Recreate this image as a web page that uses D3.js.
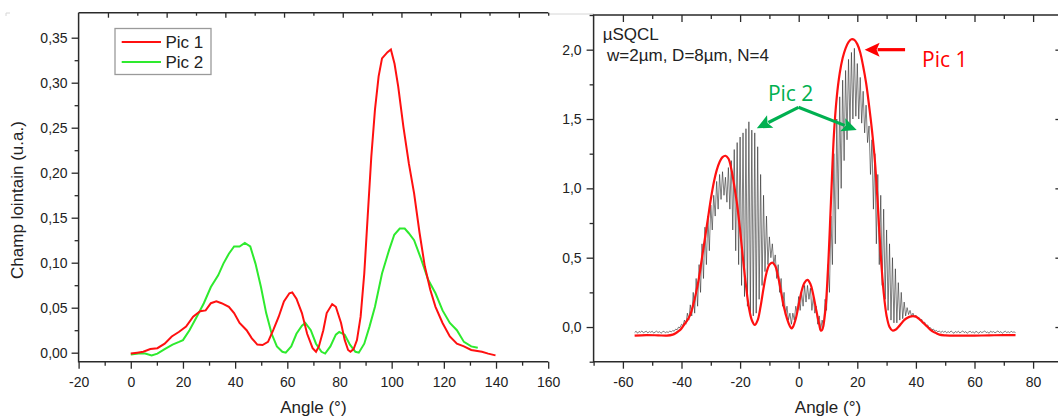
<!DOCTYPE html>
<html><head><meta charset="utf-8">
<script src="https://cdn.jsdelivr.net/npm/d3@7"></script>
<style>
html,body{margin:0;padding:0;background:#fff;}
svg{display:block;}
text{font-family:"Liberation Sans",Arial,sans-serif;fill:#222;}
.ann{font-family:"Open Sans","Noto Sans",sans-serif;}
</style></head>
<body>
<svg id="chart" width="1058" height="418"></svg>
<script>
// ---------------- DATA ----------------
// Left panel: far field, Pic 1 and Pic 2  [angle (°), value (u.a.)]
const leftSeriesNames = ["Pic 1", "Pic 2"];
const pic1 = [[0,-0.001],[2.5,0.0],[4.8,0.001],[7.5,0.004],[10.2,0.005],[13,0.010],[15.7,0.018],[18.4,0.023],[21.2,0.029],[23.9,0.040],[26.6,0.046],[28.7,0.047],[30.7,0.055],[32.8,0.057],[34.8,0.055],[37.6,0.051],[39.6,0.044],[41.7,0.033],[44.4,0.025],[46.4,0.016],[48.5,0.009],[50.5,0.0085],[52.6,0.012],[54.6,0.025],[56.7,0.040],[58.7,0.057],[60.8,0.066],[61.9,0.067],[63.5,0.060],[65.6,0.044],[67.6,0.021],[69.7,0.005],[71,0.001],[72.1,0.007],[73.8,0.025],[75.1,0.044],[77.2,0.054],[78.6,0.051],[80.6,0.033],[82,0.014],[83.3,0.003],[84.2,0.001],[85.4,0.004],[86.7,0.014],[88.1,0.040],[89.5,0.088],[90.8,0.151],[92.2,0.218],[93.6,0.270],[95,0.307],[96.3,0.327],[98.4,0.334],[99.7,0.337],[101.1,0.321],[102.5,0.296],[104.5,0.251],[106.6,0.210],[108.6,0.177],[110.7,0.133],[112.7,0.096],[114.8,0.070],[116.8,0.051],[119.5,0.033],[122.3,0.018],[125,0.010],[127.7,0.007],[130.5,0.003],[134.6,0.001],[137,-0.001],[139.8,-0.003]];
const pic2 = [[0,-0.002],[3,-0.001],[5.5,-0.001],[8,-0.003],[10.2,-0.001],[13,0.004],[16,0.009],[18.5,0.012],[20,0.014],[22.5,0.025],[25.3,0.040],[28,0.055],[30.7,0.073],[33.5,0.086],[35.5,0.099],[37.6,0.110],[39.6,0.118],[41.7,0.118],[43.7,0.122],[45.8,0.118],[47.8,0.099],[49.9,0.073],[51.9,0.044],[54,0.021],[56,0.007],[58.1,0.001],[59.4,0.0],[61.5,0.007],[63.5,0.021],[65.6,0.030],[66.9,0.033],[69,0.025],[71,0.010],[73.1,0.001],[74.5,-0.001],[76.5,0.007],[78.6,0.020],[79.9,0.023],[82,0.020],[84,0.009],[86.1,0.001],[87.4,0.0],[89.5,0.010],[91.5,0.029],[93.6,0.051],[96.3,0.088],[99,0.114],[101,0.131],[103.1,0.138],[105,0.138],[106.5,0.133],[108.6,0.125],[111.3,0.104],[114,0.081],[116.8,0.066],[119.5,0.047],[122.3,0.033],[125,0.025],[127.7,0.012],[130.5,0.007],[133,0.0055]];
const leftXTicks = [-20,0,20,40,60,80,100,120,140,160];
const leftYTicks = [0,0.05,0.10,0.15,0.20,0.25,0.30,0.35];

// Right panel: µSQCL measured (black) and model (red)  [angle (°), value]
const measured = [[-56,-0.04],[-55.5,-0.03],[-55,-0.045],[-54.5,-0.032],[-54,-0.038],[-53.5,-0.028],[-53,-0.042],[-52.5,-0.035],[-52,-0.03],[-51.5,-0.043],[-51,-0.033],[-50.5,-0.038],[-50,-0.03],[-49.5,-0.044],[-49,-0.036],[-48.5,-0.03],[-48,-0.04],[-47.5,-0.033],[-47,-0.045],[-46.5,-0.035],[-46,-0.03],[-45.5,-0.042],[-45,-0.034],[-44.5,-0.04],[-44,-0.028],[-43.5,-0.036],[-43,-0.025],[-42.5,-0.03],[-42,-0.015],[-41.5,-0.02],[-41,0.0],[-40.5,-0.005],[-40,0.02],[-39.5,0.01],[-39,0.05],[-38.5,0.02],[-38,0.1],[-37.5,0.05],[-37,0.16],[-36.5,0.08],[-36,0.25],[-35.5,0.1],[-35,0.35],[-34.5,0.15],[-34,0.45],[-33.5,0.25],[-33,0.6],[-32.5,0.35],[-32,0.72],[-31.5,0.45],[-31,0.8],[-30.5,0.55],[-30,0.88],[-29.5,0.7],[-29,0.95],[-28.5,0.8],[-28,1.05],[-27.5,0.85],[-27,1.1],[-26.5,0.92],[-26,1.12],[-25.5,0.95],[-25,1.08],[-24.5,0.9],[-24,1.15],[-23.5,0.85],[-23,1.2],[-22.5,0.7],[-22,1.28],[-21.5,0.55],[-21,1.33],[-20.5,0.45],[-20,1.37],[-19.5,0.3],[-19,1.4],[-18.5,0.22],[-18,1.43],[-17.5,0.15],[-17,1.48],[-16.5,0.1],[-16,1.42],[-15.5,0.08],[-15,1.4],[-14.5,0.1],[-14,1.3],[-13.5,0.2],[-13,1.1],[-12.5,0.3],[-12,0.95],[-11.5,0.4],[-11,0.8],[-10.5,0.45],[-10,0.65],[-9.5,0.5],[-9,0.6],[-8.5,0.45],[-8,0.52],[-7.5,0.35],[-7,0.45],[-6.5,0.25],[-6,0.35],[-5.5,0.15],[-5,0.25],[-4.5,0.08],[-4,0.15],[-3.5,0.05],[-3,0.1],[-2.5,0.02],[-2,0.1],[-1.5,0.05],[-1,0.15],[-0.5,0.1],[0,0.22],[0.5,0.12],[1,0.25],[1.5,0.15],[2,0.3],[2.5,0.18],[3,0.3],[3.5,0.2],[4,0.28],[4.5,0.12],[5,0.22],[5.5,0.1],[6,0.15],[6.5,0.02],[7,0.08],[7.5,-0.02],[8,0.05],[8.5,0.0],[9,0.2],[9.5,0.12],[10,0.45],[10.5,0.25],[11,0.8],[11.5,0.45],[12,1.25],[12.5,0.6],[13,1.5],[13.5,0.85],[14,1.66],[14.5,1.0],[15,1.78],[15.5,1.2],[16,1.85],[16.5,1.35],[17,1.93],[17.5,1.45],[18,1.98],[18.5,1.5],[19,2.01],[19.5,1.52],[20,1.9],[20.5,1.5],[21,1.8],[21.5,1.47],[22,1.7],[22.5,1.4],[23,1.6],[23.5,1.33],[24,1.45],[24.5,1.1],[25,1.35],[25.5,0.85],[26,1.25],[26.5,0.6],[27,1.1],[27.5,0.45],[28,0.95],[28.5,0.3],[29,0.85],[29.5,0.2],[30,0.7],[30.5,0.12],[31,0.6],[31.5,0.05],[32,0.5],[32.5,0.03],[33,0.42],[33.5,0.03],[34,0.32],[34.5,0.05],[35,0.25],[35.5,0.06],[36,0.18],[36.5,0.08],[37,0.14],[37.5,0.09],[38,0.12],[38.5,0.08],[39,0.1],[39.5,0.075],[40,0.085],[40.5,0.065],[41,0.07],[41.5,0.05],[42,0.055],[42.5,0.03],[43,0.035],[43.5,0.01],[44,0.015],[44.5,-0.005],[45,-0.005],[45.5,-0.02],[46,-0.015],[46.5,-0.03],[47,-0.025],[47.5,-0.035],[48,-0.028],[48.5,-0.04],[49,-0.03],[49.5,-0.038],[50,-0.03],[50.5,-0.042],[51,-0.033],[51.5,-0.04],[52,-0.028],[52.5,-0.038],[53,-0.045],[53.5,-0.032],[54,-0.04],[54.5,-0.03],[55,-0.043],[55.5,-0.035],[56,-0.028],[56.5,-0.04],[57,-0.033],[57.5,-0.045],[58,-0.036],[58.5,-0.03],[59,-0.04],[59.5,-0.034],[60,-0.044],[60.5,-0.03],[61,-0.038],[61.5,-0.045],[62,-0.032],[62.5,-0.04],[63,-0.035],[63.5,-0.028],[64,-0.04],[64.5,-0.036],[65,-0.045],[65.5,-0.03],[66,-0.038],[66.5,-0.033],[67,-0.042],[67.5,-0.035],[68,-0.028],[68.5,-0.04],[69,-0.033],[69.5,-0.045],[70,-0.036],[70.5,-0.03],[71,-0.04],[71.5,-0.034],[72,-0.042],[72.5,-0.03],[73,-0.038],[73.5,-0.035],[74,-0.04]];
const model = [[-56,-0.062],[-52,-0.058],[-48,-0.06],[-45,-0.062],[-43,-0.055],[-42,-0.045],[-41,-0.03],[-40,-0.01],[-39,0.02],[-38,0.05],[-37,0.09],[-36,0.16],[-35,0.25],[-34,0.36],[-33,0.5],[-32,0.64],[-31,0.78],[-30,0.92],[-29,1.04],[-28,1.13],[-27,1.19],[-26,1.225],[-25,1.235],[-24,1.215],[-23,1.14],[-22,1.02],[-21,0.88],[-20,0.7],[-19,0.49],[-18,0.3],[-17,0.14],[-16,0.05],[-15,0.015],[-14,0.05],[-13,0.15],[-12,0.28],[-11,0.39],[-10,0.45],[-9,0.465],[-8,0.44],[-7,0.36],[-6,0.25],[-5,0.14],[-4,0.06],[-3,0.005],[-2.5,-0.01],[-2,0.0],[-1,0.06],[0,0.16],[1,0.26],[2,0.32],[3,0.34],[4,0.31],[5,0.23],[6,0.12],[7,0.02],[7.5,-0.025],[8,-0.02],[9,0.1],[10,0.42],[11,0.9],[12,1.38],[13,1.66],[14,1.83],[15,1.94],[16,2.01],[17,2.055],[18,2.075],[19,2.07],[20,2.04],[21,1.98],[22,1.88],[23,1.76],[24,1.6],[25,1.42],[26,1.2],[27,0.88],[28,0.52],[29,0.25],[30,0.08],[31,0.0],[32,-0.025],[33,-0.02],[34,0.0],[35,0.025],[36,0.05],[37,0.065],[38,0.075],[39,0.078],[40,0.075],[41,0.06],[42,0.04],[43,0.02],[44,0.0],[45,-0.02],[46,-0.035],[47,-0.045],[48,-0.055],[50,-0.06],[55,-0.062],[60,-0.062],[65,-0.06],[70,-0.058],[74,-0.058]];
const rightXTicks = [-60,-40,-20,0,20,40,60,80];
const rightYTicks = [0,0.5,1.0,1.5,2.0];

// Annotation anchors (data coordinates of the right panel)
const annTitle = ["µSQCL", "w=2µm, D=8µm, N=4"];
const pic1Label = {text:"Pic 1", x:42.1, y:1.877, arrowFrom:[36.3,2.0], arrowTo:[22.5,2.0]};
const pic2Label = {text:"Pic 2", x:-10.5, y:1.632, apex:[-0.1,1.584], tips:[[-14.3,1.433],[19.8,1.42]]};

// ---------------- LAYOUT ----------------
const svg = d3.select("#chart");
const fmt2 = v => d3.format(".2f")(v).replace(".", ",");
const fmt1 = v => d3.format(".1f")(v).replace(".", ",");
const fmtInt = v => String(v); // plain hyphen-minus like the original
const AX = "#2a2a2a";

// decorative light frame lines
svg.append("line").attr("x1",548).attr("x2",594).attr("y1",14).attr("y2",14).attr("stroke","#d6d6d6").attr("stroke-width",1);
svg.append("path").attr("d","M6,16V13H10").attr("fill","none").attr("stroke","#d6d6d6").attr("stroke-width",1);

function styleAxis(g){
  g.select(".domain").remove();
  g.selectAll(".tick line").attr("stroke",AX).attr("stroke-width",1.3);
  g.selectAll(".tick text").attr("fill","#222").style("font-size","14px").style("font-family","'Liberation Sans',Arial,sans-serif");
}

// ----- LEFT PANEL -----
const lx = d3.scaleLinear().domain([-20,160]).range([78.6,548.2]);
const ly = d3.scaleLinear().domain([-0.01,0.37778]).range([361.7,12.7]);
const lTop = d3.scaleLinear().domain([0,16]).range([78.6,548.2]);
const L = svg.append("g");

L.append("g").attr("transform",`translate(0,${ly.range()[0]})`)
  .call(d3.axisBottom(lx).tickValues(d3.range(-10,160,20)).tickSize(4).tickFormat("")).call(styleAxis);
L.append("g").attr("transform",`translate(${lx.range()[0]},0)`)
  .call(d3.axisLeft(ly).tickValues(d3.range(0.025,0.37,0.05)).tickSize(4).tickFormat("")).call(styleAxis);
L.append("g").attr("transform",`translate(0,${ly.range()[0]})`)
  .call(d3.axisBottom(lx).tickValues(leftXTicks).tickSize(7).tickPadding(8).tickFormat(fmtInt)).call(styleAxis);
L.append("g").attr("transform",`translate(${lx.range()[0]},0)`)
  .call(d3.axisLeft(ly).tickValues(leftYTicks).tickSize(7).tickPadding(4).tickFormat(fmt2)).call(styleAxis);
L.append("g").attr("transform",`translate(0,${ly.range()[1]})`)
  .call(d3.axisBottom(lTop).tickValues(d3.range(1,16,2)).tickSize(5).tickFormat("")).call(styleAxis);
L.append("g").attr("transform",`translate(0,${ly.range()[1]})`)
  .call(d3.axisBottom(lTop).tickValues(d3.range(2,17,2)).tickSize(3).tickFormat("")).call(styleAxis);
L.append("path").attr("d",`M${lx.range()[0]},${ly.range()[1]}V${ly.range()[0]}H${lx.range()[1]}M${lx.range()[0]},${ly.range()[1]}H${lx.range()[1]}`)
  .attr("fill","none").attr("stroke",AX).attr("stroke-width",1.5);

const lline = d3.line().x(d=>lx(d[0])).y(d=>ly(d[1])).curve(d3.curveLinear);
const leftColors = ["#ff1010","#2eea2e"];
L.append("path").datum(pic2).attr("d",lline).attr("fill","none").attr("stroke",leftColors[1]).attr("stroke-width",2);
L.append("path").datum(pic1).attr("d",lline).attr("fill","none").attr("stroke",leftColors[0]).attr("stroke-width",2);

L.append("text").attr("x",313.4).attr("y",413).attr("text-anchor","middle").style("font-size","17px").text("Angle (°)");
L.append("text").attr("transform","translate(23,200) rotate(-90)").attr("text-anchor","middle").style("font-size","17px").text("Champ lointain (u.a.)");

const lg = L.append("g");
lg.append("rect").attr("x",115).attr("y",28.5).attr("width",96).attr("height",46).attr("fill","#fff").attr("stroke","#9a9a9a").attr("stroke-width",1.3);
leftSeriesNames.forEach((n,i)=>{
  const yy = 42 + i*20;
  lg.append("line").attr("x1",121.7).attr("x2",161).attr("y1",yy).attr("y2",yy).attr("stroke",leftColors[i]).attr("stroke-width",2);
  lg.append("text").attr("x",165.5).attr("y",yy+6.3).style("font-size","17px").text(n);
});

// ----- RIGHT PANEL -----
const rx = d3.scaleLinear().domain([-70,90]).range([593.6,1062.4]);
const ry = d3.scaleLinear().domain([-0.25,2.25]).range([361.7,15]);
const R = svg.append("g");

R.append("g").attr("transform",`translate(0,${ry.range()[0]})`)
  .call(d3.axisBottom(rx).tickValues(d3.range(-70,91,20)).tickSize(4).tickFormat("")).call(styleAxis);
R.append("g").attr("transform",`translate(${rx.range()[0]},0)`)
  .call(d3.axisLeft(ry).tickValues(d3.range(-0.25,2.26,0.5)).tickSize(4).tickFormat("")).call(styleAxis);
R.append("g").attr("transform",`translate(0,${ry.range()[0]})`)
  .call(d3.axisBottom(rx).tickValues(rightXTicks).tickSize(7).tickPadding(8).tickFormat(fmtInt)).call(styleAxis);
R.append("g").attr("transform",`translate(${rx.range()[0]},0)`)
  .call(d3.axisLeft(ry).tickValues(rightYTicks).tickSize(7).tickPadding(5).tickFormat(fmt1)).call(styleAxis);
R.append("g").attr("transform",`translate(0,${ry.range()[1]})`)
  .call(d3.axisBottom(rx).tickValues(d3.range(-60,90,20)).tickSize(7).tickFormat("")).call(styleAxis);
R.append("g").attr("transform",`translate(0,${ry.range()[1]})`)
  .call(d3.axisBottom(rx).tickValues(d3.range(-50,90,20)).tickSize(4).tickFormat("")).call(styleAxis);
R.append("g").attr("transform",`translate(${rx.range()[1]},0)`)
  .call(d3.axisLeft(ry).tickValues(rightYTicks).tickSize(7).tickFormat("")).call(styleAxis);
R.append("path").attr("d",`M${rx.range()[0]},${ry.range()[1]}V${ry.range()[0]}H${rx.range()[1]}V${ry.range()[1]}Z`)
  .attr("fill","none").attr("stroke",AX).attr("stroke-width",1.5);

const rline = d3.line().x(d=>rx(d[0])).y(d=>ry(d[1]));
R.append("path").datum(measured).attr("d",rline).attr("fill","none").attr("stroke","#2a2a2a").attr("stroke-width",0.8).attr("stroke-opacity",0.75);
R.append("path").datum(model).attr("d",rline.curve(d3.curveCatmullRom)).attr("fill","none").attr("stroke","#ff1010").attr("stroke-width",2.2);

R.append("text").attr("x",828).attr("y",413).attr("text-anchor","middle").style("font-size","17px").text("Angle (°)");

R.append("text").attr("x",rx(-66.9)).attr("y",ry(2.07)).style("font-size","17px").text(annTitle[0]);
R.append("text").attr("x",rx(-65.4)).attr("y",ry(1.918)).style("font-size","17px").text(annTitle[1]);

function arrow(g, from, to, color){
  const x1=rx(from[0]), y1=ry(from[1]), x2=rx(to[0]), y2=ry(to[1]);
  const dx=x2-x1, dy=y2-y1, len=Math.hypot(dx,dy), ux=dx/len, uy=dy/len;
  const hl=15, hw=7;
  const bx=x2-ux*hl, by=y2-uy*hl;
  g.append("line").attr("x1",x1).attr("y1",y1).attr("x2",bx+ux*2).attr("y2",by+uy*2).attr("stroke",color).attr("stroke-width",3.2);
  g.append("path").attr("d",`M${x2},${y2}L${bx-uy*hw},${by+ux*hw}L${bx+ux*3},${by+uy*3}L${bx+uy*hw},${by-ux*hw}Z`).attr("fill",color);
}
arrow(R, pic1Label.arrowFrom, pic1Label.arrowTo, "#ff0000");
R.append("text").attr("class","ann").attr("x",rx(pic1Label.x)).attr("y",ry(pic1Label.y)).style("font-size","21px").style("fill","#ff0000").text(pic1Label.text);
pic2Label.tips.forEach(t=>arrow(R, pic2Label.apex, t, "#00b050"));
R.append("text").attr("class","ann").attr("x",rx(pic2Label.x)).attr("y",ry(pic2Label.y)).style("font-size","21px").style("fill","#00b050").text(pic2Label.text);
</script>
</body></html>
